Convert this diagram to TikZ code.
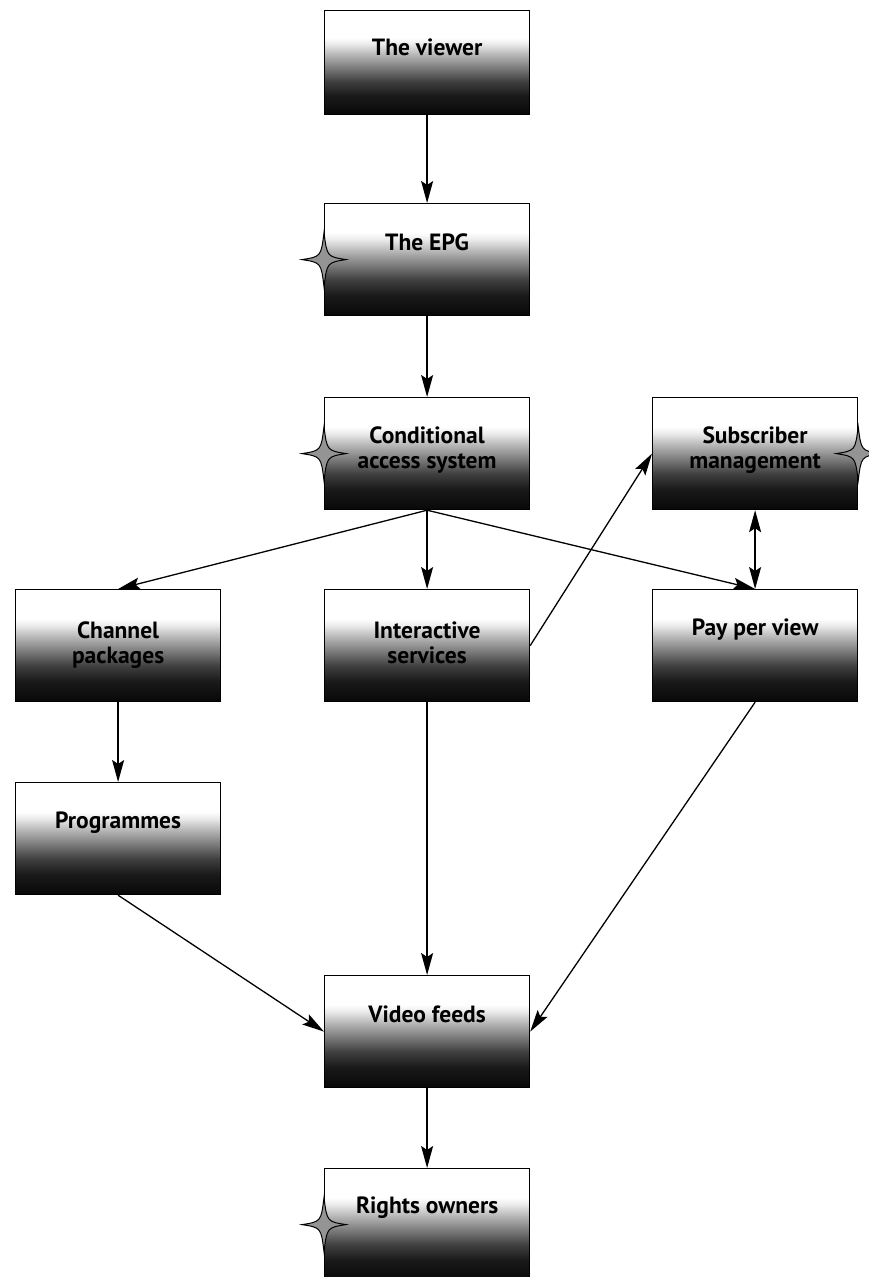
\documentclass[tikz,border=0pt]{standalone}
\usepackage{fontspec}
\newfontfamily\lblfont{PT Sans}
\usetikzlibrary{arrows.meta,calc}
\pgfdeclareverticalshading{boxshade}{100bp}{%
  color(0bp)=(black); color(25bp)=(black!97); color(34bp)=(black!90);
  color(41bp)=(black!75); color(48bp)=(black!50); color(54bp)=(black!28);
  color(59bp)=(black!8); color(62bp)=(white); color(100bp)=(white)}
\tikzset{
  box/.style={rectangle, draw=black, line width=1.2pt, shading=boxshade,
    minimum width=205pt, minimum height=112pt, inner sep=0pt, anchor=north west},
  lbl/.style={font=\lblfont\bfseries\fontsize{23.5}{25}\selectfont, anchor=base, inner sep=0pt},
  conn/.style={line width=1.3pt, -{Stealth[length=22pt,width=12pt,inset=4pt]}},
  dconn/.style={line width=1.3pt, {Stealth[length=22pt,width=12pt,inset=4pt]}-{Stealth[length=22pt,width=12pt,inset=4pt]}},
  starstyle/.style={draw=black, line width=1pt, fill=black!42}
}
\newcommand\fourstar[1]{%
  \draw[starstyle, shift={(#1)}] (22,0) .. controls (3,-3) .. (0,-27)
    .. controls (-3,-3) .. (-22,0) .. controls (-3,3) .. (0,27)
    .. controls (3,3) .. cycle;}
\newcommand\twolines[2]{\begin{tabular}[t]{@{}c@{}}#1\\#2\end{tabular}}
\begin{document}
\begin{tikzpicture}[x=1pt,y=-1pt]
\useasboundingbox (0,0) rectangle (868,1277);
% boxes
\node[box, minimum height=104pt] (viewer) at (324,10) {};
\node[box] (epg) at (324,203) {};
\node[box] (cas) at (324,397) {};
\node[box] (sub) at (652,397) {};
\node[box] (chan) at (15,589) {};
\node[box] (inter) at (324,589) {};
\node[box] (ppv) at (652,589) {};
\node[box] (prog) at (15,782) {};
\node[box] (vid) at (324,975) {};
\node[box] (rights) at (324,1168) {};
% labels
\node[lbl] (tviewer) at ($(viewer.north)+(0,45)$) {The viewer};
\node[lbl] (tepg) at ($(epg.north)+(0,47)$) {The EPG};
\node[lbl] (tcas) at ($(cas.north)+(0,46)$) {\twolines{Conditional}{access system}};
\node[lbl] (tsub) at ($(sub.north)+(0,46)$) {\twolines{Subscriber}{management}};
\node[lbl] (tchan) at ($(chan.north)+(0,49)$) {\twolines{Channel}{packages}};
\node[lbl] (tinter) at ($(inter.north)+(0,49)$) {\twolines{Interactive}{services}};
\node[lbl] (tppv) at ($(ppv.north)+(0,46)$) {Pay per view};
\node[lbl] (tprog) at ($(prog.north)+(0,46)$) {Programmes};
\node[lbl] (tvid) at ($(vid.north)+(0,47)$) {Video feeds};
\node[lbl] (trights) at ($(rights.north)+(0,45)$) {Rights owners};
% stars
\fourstar{epg.west}
\fourstar{cas.west}
\fourstar{sub.east}
\fourstar{rights.west}
% connectors
\draw[conn] (viewer.south) -- (epg.north);
\draw[conn] (epg.south) -- (cas.north);
\draw[conn] (cas.south) -- (chan.north);
\draw[conn] (cas.south) -- (inter.north);
\draw[conn] (cas.south) -- (ppv.north);
\draw[conn] (inter.east) -- (sub.west);
\draw[dconn] (sub.south) -- (ppv.north);
\draw[conn] (chan.south) -- (prog.north);
\draw[conn] (prog.south) -- (vid.west);
\draw[conn] (inter.south) -- (vid.north);
\draw[conn] (ppv.south) -- (vid.east);
\draw[conn] (vid.south) -- (rights.north);
\end{tikzpicture}
\end{document}
